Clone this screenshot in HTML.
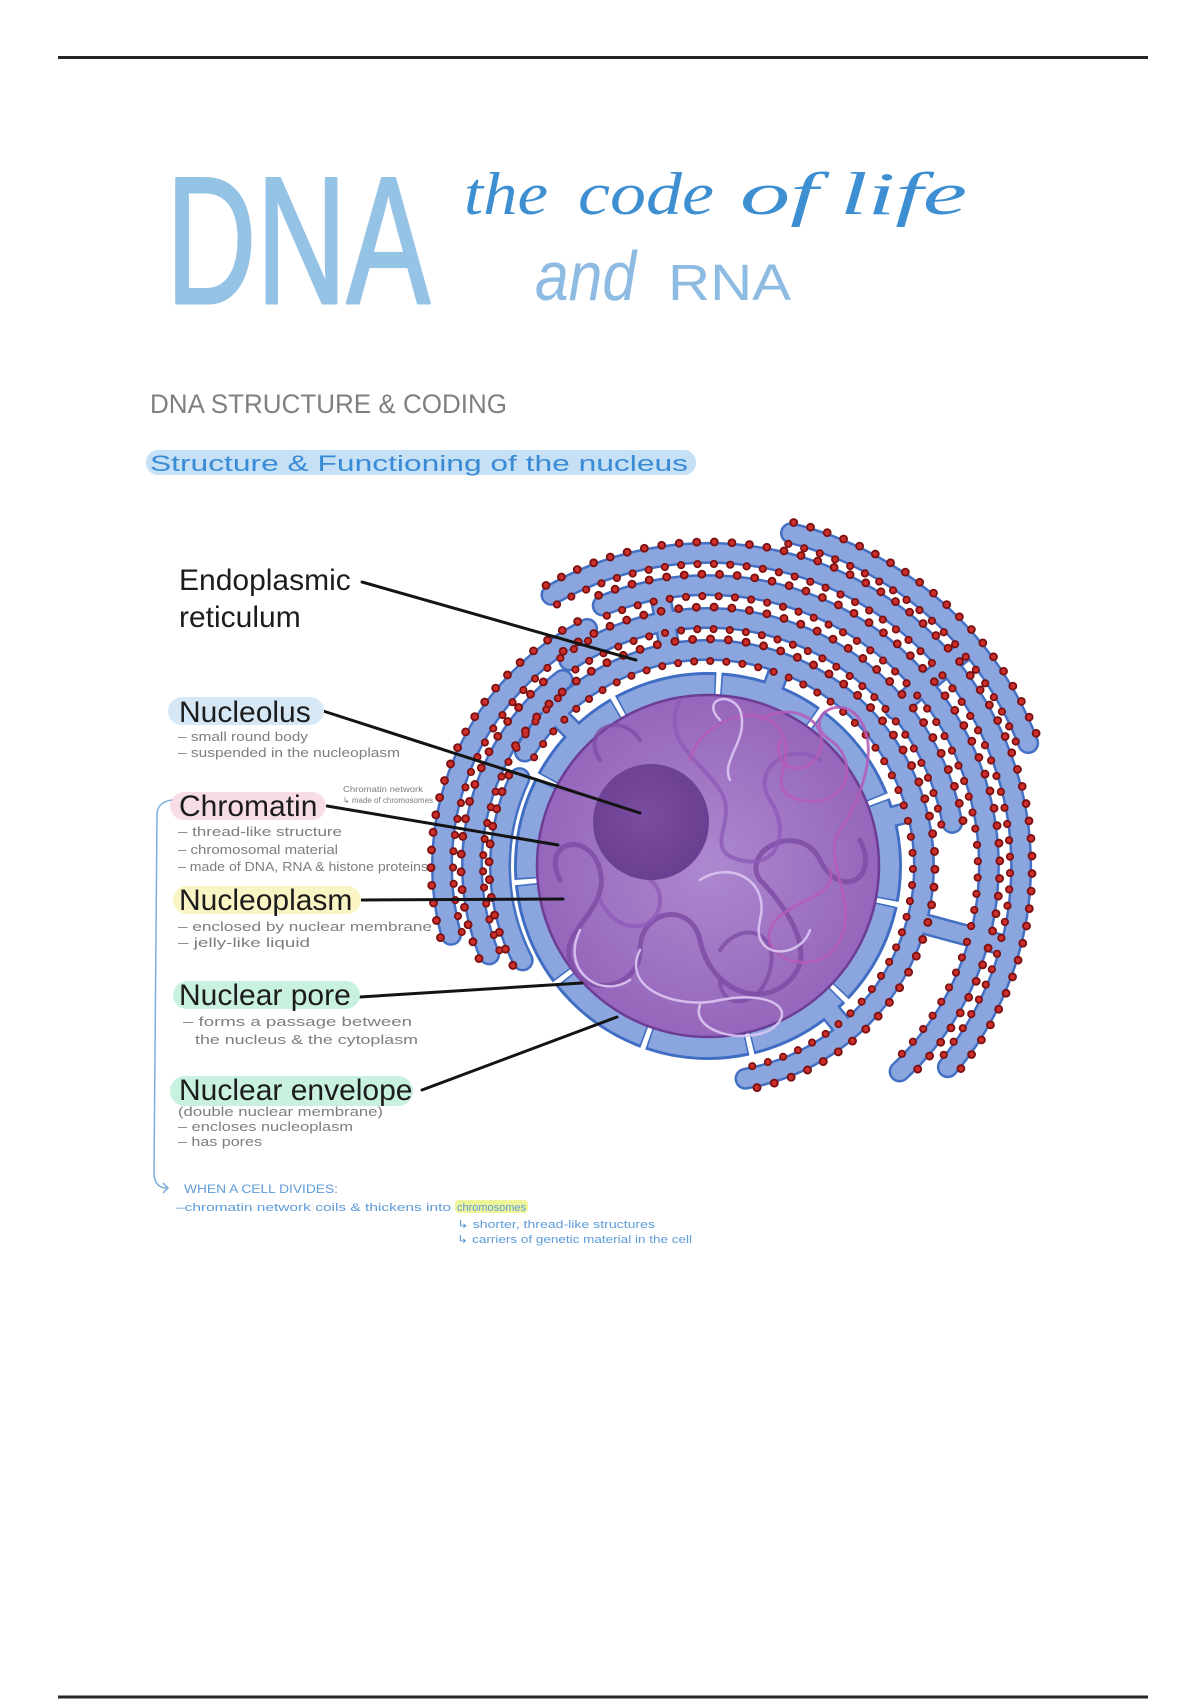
<!DOCTYPE html>
<html>
<head>
<meta charset="utf-8">
<style>
html,body{margin:0;padding:0;background:#fff;}
svg{display:block}
</style>
</head>
<body>
<svg width="1200" height="1700" viewBox="0 0 1200 1700" xmlns="http://www.w3.org/2000/svg" xmlns:xlink="http://www.w3.org/1999/xlink" font-family="'Liberation Sans', Arial, sans-serif">
<defs>
  <radialGradient id="pg" cx="50%" cy="50%" r="50%">
    <stop offset="0" stop-color="#ad88cf"/>
    <stop offset="1" stop-color="#9566bb"/>
  </radialGradient>
  <radialGradient id="ng" cx="45%" cy="45%" r="55%">
    <stop offset="0" stop-color="#7a4ca0"/>
    <stop offset="1" stop-color="#6a3e90"/>
  </radialGradient>
  <path id="lo" d="M451.1 934.8 A266 266 0 0 1 587.2 629"/>
  <path id="lm" d="M489.2 954.4 A236 236 0 0 1 562.7 680"/>
  <path id="li" d="M522.7 960.4 A208 208 0 0 1 519.5 778.1"/>
  <path id="ea" d="M791 533.2 A343 343 0 0 1 1028.2 743.1"/>
  <path id="eb" d="M551.5 594.9 A313 313 0 0 1 947.8 1067.2"/>
  <path id="ec" d="M602.7 605.5 A281 281 0 0 1 899.6 1071.5"/>
  <path id="ed" d="M569.3 660.4 A248 248 0 0 1 952.2 822.9"/>
  <path id="ee" d="M524.8 751.5 A216 216 0 1 1 745.5 1078.7"/>
  <g id="bandsrc">
    <use href="#lo"/><use href="#lm"/><use href="#li"/>
    <use href="#ea"/><use href="#eb"/><use href="#ec"/><use href="#ed"/><use href="#ee"/>
    <path d="M670.5 653.3 L660.1 594.2"/>
    <path d="M894.9 709.2 L968.4 647.4"/>
    <path d="M916.6 921.9 L1005.5 945.7"/>
    <path d="M573.7 731.7 L541.1 699.1"/>
    <path d="M891.5 816.8 L916.6 810.1"/>
    <path d="M830.1 1011.5 L846.8 1031.5"/>
    <path d="M773 687.5 L781.9 663"/>
  </g>
  <g id="dotsrc">
    <use href="#lo" transform="matrix(1.04135 0 0 1.04135 -29.28 -35.81)"/>
    <use href="#lo" transform="matrix(0.95865 0 0 0.95865 29.28 35.81)"/>
    <use href="#lm" transform="matrix(1.04661 0 0 1.04661 -33.0 -40.36)"/>
    <use href="#lm" transform="matrix(0.95339 0 0 0.95339 33.0 40.36)"/>
    <use href="#li" transform="matrix(1.05288 0 0 1.05288 -37.44 -45.79)"/>
    <use href="#ea" transform="matrix(1.03207 0 0 1.03207 -22.71 -27.77)"/>
    <use href="#ea" transform="matrix(0.96793 0 0 0.96793 22.71 27.77)"/>
    <use href="#eb" transform="matrix(1.03514 0 0 1.03514 -24.88 -30.43)"/>
    <use href="#eb" transform="matrix(0.96486 0 0 0.96486 24.88 30.43)"/>
    <use href="#ec" transform="matrix(1.03915 0 0 1.03915 -27.72 -33.90)"/>
    <use href="#ec" transform="matrix(0.96085 0 0 0.96085 27.72 33.90)"/>
    <use href="#ed" transform="matrix(1.04435 0 0 1.04435 -31.40 -38.41)"/>
    <use href="#ed" transform="matrix(0.95565 0 0 0.95565 31.40 38.41)"/>
    <use href="#ee" transform="matrix(1.05093 0 0 1.05093 -36.06 -44.11)"/>
    <use href="#ee" transform="matrix(0.94907 0 0 0.94907 36.06 44.11)"/>
  </g>
</defs>

<!-- page rules -->
<line x1="58" y1="57.5" x2="1148" y2="57.5" stroke="#262626" stroke-width="3"/>
<line x1="58" y1="1697" x2="1148" y2="1697" stroke="#262626" stroke-width="3"/>

<!-- title -->
<text x="166" y="303" font-size="181" textLength="264" lengthAdjust="spacingAndGlyphs" fill="#95c3e6" stroke="#95c3e6" stroke-width="3" stroke-linejoin="round">DNA</text>
<g font-family="'Liberation Serif', serif" font-style="italic" font-size="60" fill="#3d8fd2">
  <text x="464" y="214" textLength="84" lengthAdjust="spacingAndGlyphs">the</text>
  <text x="578" y="214" textLength="136" lengthAdjust="spacingAndGlyphs">code</text>
  <text x="740" y="214" textLength="78" lengthAdjust="spacingAndGlyphs">of</text>
  <text x="840" y="214" textLength="127" lengthAdjust="spacingAndGlyphs">life</text>
</g>
<text x="535" y="300" font-size="70" font-style="italic" fill="#8dbbe1" textLength="101" lengthAdjust="spacingAndGlyphs">and</text>
<text x="668" y="300" font-size="51" fill="#8dbbe1" textLength="123" lengthAdjust="spacingAndGlyphs">RNA</text>

<text x="150" y="413" font-size="27" fill="#808080" textLength="357" lengthAdjust="spacingAndGlyphs">DNA STRUCTURE &amp; CODING</text>

<rect x="146" y="450" width="550" height="25" rx="12" fill="#c6e0f5"/>
<text x="150" y="471" font-size="22" fill="#3a8bd6" textLength="538" lengthAdjust="spacingAndGlyphs">Structure &amp; Functioning of the nucleus</text>

<!-- ER bands -->
<use href="#bandsrc" fill="none" stroke="#4470c4" stroke-width="22" stroke-linecap="round"/>
<!-- envelope outline -->
<circle cx="708" cy="866" r="181" fill="none" stroke="#3f6dc3" stroke-width="26" pathLength="360" stroke-dasharray="31.2 1.527" stroke-dashoffset="0.5" transform="rotate(-20 708 866)"/>
<use href="#bandsrc" fill="none" stroke="#8ba5de" stroke-width="17" stroke-linecap="round"/>
<circle cx="708" cy="866" r="181" fill="none" stroke="#8ba5de" stroke-width="20" pathLength="360" stroke-dasharray="30.2 2.527" transform="rotate(-20 708 866)"/>

<!-- ribosomes -->
<use href="#dotsrc" fill="none" stroke="#7a1010" stroke-width="8.5" stroke-linecap="round" stroke-dasharray="0 17"/>
<use href="#dotsrc" fill="none" stroke="#cc2e2c" stroke-width="5" stroke-linecap="round" stroke-dasharray="0 17"/>

<!-- nucleus -->
<circle cx="708" cy="866" r="171" fill="url(#pg)" stroke="#6c3d95" stroke-width="2.5"/>
<g fill="none" stroke-linecap="round" stroke-linejoin="round">
  <path d="M560 880 C540 840 590 830 600 870 C610 910 560 930 570 960 C580 1000 640 990 640 950 C640 910 690 900 700 940 C710 990 760 1010 790 980 C820 950 780 900 760 880 C740 850 800 820 820 860 C840 900 880 880 860 840" stroke="#7e4ea6" stroke-width="5" opacity="0.85"/>
  <path d="M720 950 C740 920 780 930 770 970 C760 1010 720 1010 720 980 M600 760 C580 730 620 710 640 740" stroke="#7e4ea6" stroke-width="4" opacity="0.8"/>
  <path d="M680 700 C660 740 700 760 720 790 C740 820 700 850 740 860 C780 870 790 830 770 800 C750 770 790 740 820 760 M600 900 C620 940 660 930 660 900 C660 870 620 880 640 840" stroke="#8d5bb8" stroke-width="4" opacity="0.8"/>
  <path d="M690 760 C700 720 760 700 780 730 C800 760 760 790 800 800 C850 810 860 760 830 740 C800 720 840 690 860 720 C880 750 860 800 840 830 C820 860 860 900 840 940 C820 980 760 960 770 930 C780 900 840 900 830 870 M760 720 C790 700 830 720 820 750 C810 780 770 770 780 740" stroke="#b45cb8" stroke-width="3" opacity="0.85"/>
  <path d="M640 950 C620 990 680 1010 720 1000 C770 990 800 1010 770 1030 C740 1045 690 1030 700 1005 M700 880 C730 860 770 880 760 920 C750 960 800 960 810 930 M720 720 C700 700 730 690 740 710 C750 740 720 760 730 780 M580 930 C560 970 600 1000 630 980" stroke="#dcc6f2" stroke-width="2.5" opacity="0.9"/>
</g>
<circle cx="651" cy="822" r="58" fill="url(#ng)"/>

<!-- leader lines -->
<g stroke="#141414" stroke-width="3" stroke-linecap="round">
  <line x1="362" y1="582" x2="636" y2="660"/>
  <line x1="320" y1="710" x2="640" y2="813"/>
  <line x1="327" y1="806" x2="558" y2="845"/>
  <line x1="362" y1="900" x2="563" y2="899"/>
  <line x1="360" y1="997" x2="582" y2="983"/>
  <line x1="422" y1="1090" x2="617" y2="1017"/>
</g>

<!-- label highlights -->
<rect x="168" y="697" width="156" height="28" rx="14" fill="#d6e8f6"/>
<rect x="170" y="792" width="156" height="28" rx="14" fill="#f7dde8"/>
<rect x="173" y="886" width="188" height="28" rx="14" fill="#f9f5c4"/>
<rect x="173" y="981" width="187" height="28" rx="14" fill="#c8f1e0"/>
<rect x="170" y="1076" width="243" height="30" rx="15" fill="#c8f1e0"/>

<!-- labels -->
<g font-size="30" fill="#1c1c1c">
  <text x="179" y="590">Endoplasmic</text>
  <text x="179" y="627">reticulum</text>
  <text x="179" y="722">Nucleolus</text>
  <text x="179" y="816">Chromatin</text>
  <text x="179" y="910">Nucleoplasm</text>
  <text x="179" y="1005">Nuclear pore</text>
  <text x="179" y="1100">Nuclear envelope</text>
</g>

<!-- notes -->
<g font-size="13" fill="#7d7d7d">
  <text x="178" y="741" textLength="130" lengthAdjust="spacingAndGlyphs">– small round body</text>
  <text x="178" y="757" textLength="222" lengthAdjust="spacingAndGlyphs">– suspended in the nucleoplasm</text>
  <text x="178" y="836" textLength="164" lengthAdjust="spacingAndGlyphs">– thread-like structure</text>
  <text x="178" y="854" textLength="160" lengthAdjust="spacingAndGlyphs">– chromosomal material</text>
  <text x="178" y="871" textLength="250" lengthAdjust="spacingAndGlyphs">– made of DNA, RNA &amp; histone proteins</text>
  <text x="178" y="931" textLength="254" lengthAdjust="spacingAndGlyphs">– enclosed by nuclear membrane</text>
  <text x="178" y="947" textLength="132" lengthAdjust="spacingAndGlyphs">– jelly-like liquid</text>
  <text x="183" y="1026" textLength="229" lengthAdjust="spacingAndGlyphs">– forms a passage between</text>
  <text x="195" y="1044" textLength="223" lengthAdjust="spacingAndGlyphs">the nucleus &amp; the cytoplasm</text>
  <text x="178" y="1116" textLength="205" lengthAdjust="spacingAndGlyphs">(double nuclear membrane)</text>
  <text x="178" y="1131" textLength="175" lengthAdjust="spacingAndGlyphs">– encloses nucleoplasm</text>
  <text x="178" y="1146" textLength="84" lengthAdjust="spacingAndGlyphs">– has pores</text>
</g>
<g font-size="8" fill="#7d7d7d">
  <text x="343" y="792" textLength="80" lengthAdjust="spacingAndGlyphs">Chromatin network</text>
  <text x="343" y="803" textLength="90" lengthAdjust="spacingAndGlyphs">↳ made of chromosomes</text>
</g>

<!-- bracket -->
<path d="M172 800 C163 801 157 806 157 815 L154 1172 C154 1182 158 1188 167 1188" fill="none" stroke="#7aaedc" stroke-width="1.5"/>
<path d="M163 1183 L168 1188 L163 1193" fill="none" stroke="#7aaedc" stroke-width="1.5"/>

<!-- bottom blue notes -->
<rect x="455" y="1200" width="73" height="13" rx="4" fill="#eef59a"/>
<g fill="#5d9bd8">
  <text x="184" y="1193" font-size="12" textLength="154" lengthAdjust="spacingAndGlyphs">WHEN A CELL DIVIDES:</text>
  <text x="176" y="1211" font-size="11" textLength="275" lengthAdjust="spacingAndGlyphs">–chromatin network coils &amp; thickens into</text>
  <text x="457" y="1211" font-size="11" textLength="69" lengthAdjust="spacingAndGlyphs">chromosomes</text>
  <text x="457" y="1228" font-size="11" textLength="198" lengthAdjust="spacingAndGlyphs">↳ shorter, thread-like structures</text>
  <text x="457" y="1243" font-size="11" textLength="235" lengthAdjust="spacingAndGlyphs">↳ carriers of genetic material in the cell</text>
</g>
</svg>
</body>
</html>
